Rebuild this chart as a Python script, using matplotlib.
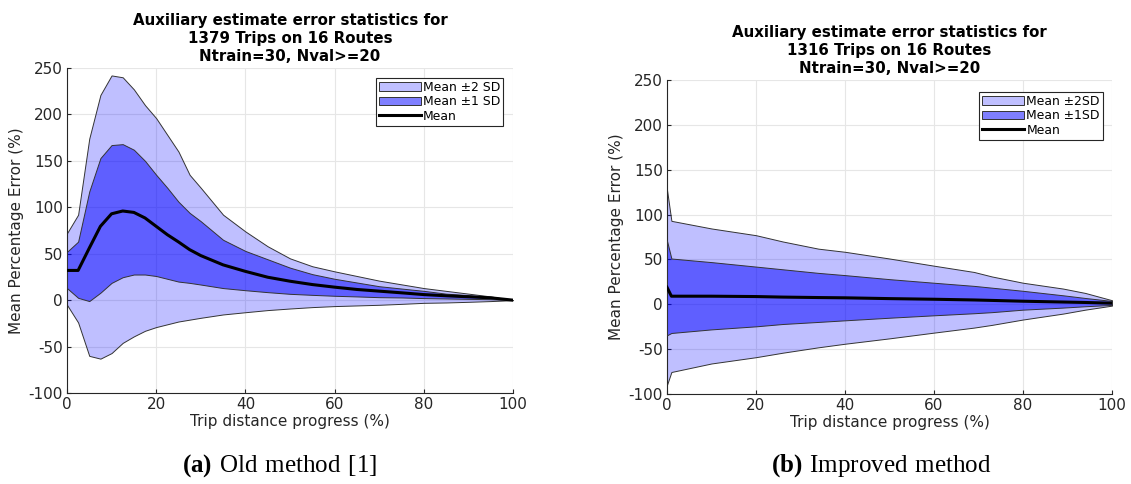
import numpy as np
import matplotlib
matplotlib.use('Agg')
import matplotlib.pyplot as plt

# old method (a)
x_old = [0, 2.5, 5, 7.5, 10, 12.5, 15, 17.5, 20, 22.5, 25, 27.5, 30, 35, 40,
         45, 50, 55, 60, 65, 70, 75, 80, 85, 90, 95, 100]
up2_old = [72, 92, 174, 221, 242, 240, 227, 210, 196, 178, 160, 135, 121, 92, 74,
           58, 45, 36.5, 31, 26, 21, 17, 13, 10, 7, 4, 0]
up1_old = [52, 63, 117, 153, 167, 168, 162, 150, 135, 121, 106, 94, 85, 65, 53,
           44, 35, 28, 23, 19, 15, 12.5, 10, 7, 5.4, 3, 0]
mean_old = [32, 32, 56, 79.5, 93, 96, 94.5, 88.5, 79.5, 70.5, 62.7, 54.4, 48, 38, 31,
            24.7, 20.4, 16.8, 14, 11.5, 9.7, 7.9, 6, 4.7, 3.6, 2.5, 0]
lo1_old = [13, 2.5, -1, 8, 18.6, 24.7, 27.6, 27.6, 26, 23, 20, 18.6, 16.8, 13, 10.7,
           8.6, 6.8, 5.7, 4.7, 4, 3.2, 2.9, 2.2, 1.8, 1.4, 1, 0]
lo2_old = [-5, -24, -60, -63, -57, -46, -39, -33, -29, -26, -23, -21, -19, -15.4, -13,
           -10.7, -9, -7.5, -6.4, -5.7, -5, -4, -2.9, -2.5, -1.8, -1, 0]

# improved method (b)
x_new = [0, 1, 10, 20, 26, 34, 40, 50, 60, 69, 73, 80, 89, 94, 100]
up2_new = [128, 93, 84.5, 77, 70, 62, 58.5, 51, 43, 36, 31, 24, 17.5, 12.6, 4.5]
up1_new = [71, 51, 47, 42, 39, 35, 32.5, 28, 24, 20.5, 18.5, 15, 10, 7, 3.7]
mean_new = [19, 9, 9, 8.6, 8, 7.5, 7.2, 6.3, 5.6, 4.8, 4.3, 3.4, 2.5, 2, 1.2]
lo1_new = [-34.6, -32, -28, -24.6, -22, -19.7, -17.9, -15, -12.3, -10, -8.8, -6, -3.7, -2.2, -0.7]
lo2_new = [-90, -75.5, -66, -59, -54, -48, -44, -38, -31.6, -26, -23, -17, -10.4, -6, -1.5]

title_old = 'Auxiliary estimate error statistics for\n1379 Trips on 16 Routes\nNtrain=30, Nval>=20'
title_new = 'Auxiliary estimate error statistics for\n1316 Trips on 16 Routes\nNtrain=30, Nval>=20'
labels_old = ['Mean \u00b12 SD', 'Mean \u00b11 SD', 'Mean']
labels_new = ['Mean \u00b12SD', 'Mean \u00b11SD', 'Mean']

plt.rcParams['font.family'] = 'DejaVu Sans'
plt.rcParams['axes.unicode_minus'] = False
plt.rcParams['mathtext.fontset'] = 'custom'
plt.rcParams['mathtext.bf'] = 'Liberation Serif:bold'
plt.rcParams['mathtext.rm'] = 'Liberation Serif'
axcol = (0.15, 0.15, 0.15)

fig = plt.figure(figsize=(11.31, 4.84), dpi=100)
ax1 = fig.add_axes([0.0592, 0.188, 0.3944, 0.6715])
ax2 = fig.add_axes([0.5897, 0.186, 0.3935, 0.6487])


def draw(ax, x, up2, up1, mean, lo1, lo2, title, labels, legpos):
    h2 = ax.fill_between(x, lo2, up2, facecolor=(0, 0, 1, 0.25),
                         edgecolor=(0.2, 0.2, 0.2), linewidth=0.7, zorder=2)
    h1 = ax.fill_between(x, lo1, up1, facecolor=(0, 0, 1, 0.5),
                         edgecolor=(0.2, 0.2, 0.2), linewidth=0.7, zorder=3)
    hm, = ax.plot(x, mean, color='k', linewidth=2.2, zorder=4)
    ax.set_xlim(0, 100)
    ax.set_ylim(-100, 250)
    ax.set_xticks(np.arange(0, 101, 20))
    ax.set_yticks(np.arange(-100, 251, 50))
    ax.grid(True, color=(0.9, 0.9, 0.9), linewidth=0.8, zorder=0)
    ax.set_axisbelow(True)
    for s in ['top', 'right']:
        ax.spines[s].set_visible(False)
    for s in ['left', 'bottom']:
        ax.spines[s].set_color(axcol)
        ax.spines[s].set_linewidth(0.8)
    ax.tick_params(direction='in', length=3, color=axcol, labelcolor=axcol,
                   labelsize=11, pad=3)
    ax.set_xlabel('Trip distance progress (%)', fontsize=11, color=axcol, labelpad=1)
    ax.set_ylabel('Mean Percentage Error (%)', fontsize=11, color=axcol, labelpad=3)
    ax.set_title(title, fontsize=10.8, fontweight='bold', linespacing=1.25, pad=5)
    leg = ax.legend([h2, h1, hm], labels, loc='upper left', bbox_to_anchor=legpos,
                    fontsize=8.9, fancybox=False, framealpha=1, edgecolor=axcol,
                    borderpad=0.25, labelspacing=0.12, handlelength=3.4,
                    handletextpad=0.15, borderaxespad=0)
    leg.get_frame().set_linewidth(0.8)
    return leg


draw(ax1, x_old, up2_old, up1_old, mean_old, lo1_old, lo2_old, title_old,
     labels_old, (0.692, 0.97))
draw(ax2, x_new, up2_new, up1_new, mean_new, lo1_new, lo2_new, title_new,
     labels_new, (0.702, 0.963))

fig.text(280 / 1131, 1 - 466 / 484, r'$\mathbf{(a)}$$\mathrm{\ Old\ method\ [1]}$',
         ha='center', va='center', fontsize=18)
fig.text(881 / 1131, 1 - 466 / 484, r'$\mathbf{(b)}$$\mathrm{\ Improved\ method}$',
         ha='center', va='center', fontsize=18)

fig.savefig('out.png', dpi=100)
